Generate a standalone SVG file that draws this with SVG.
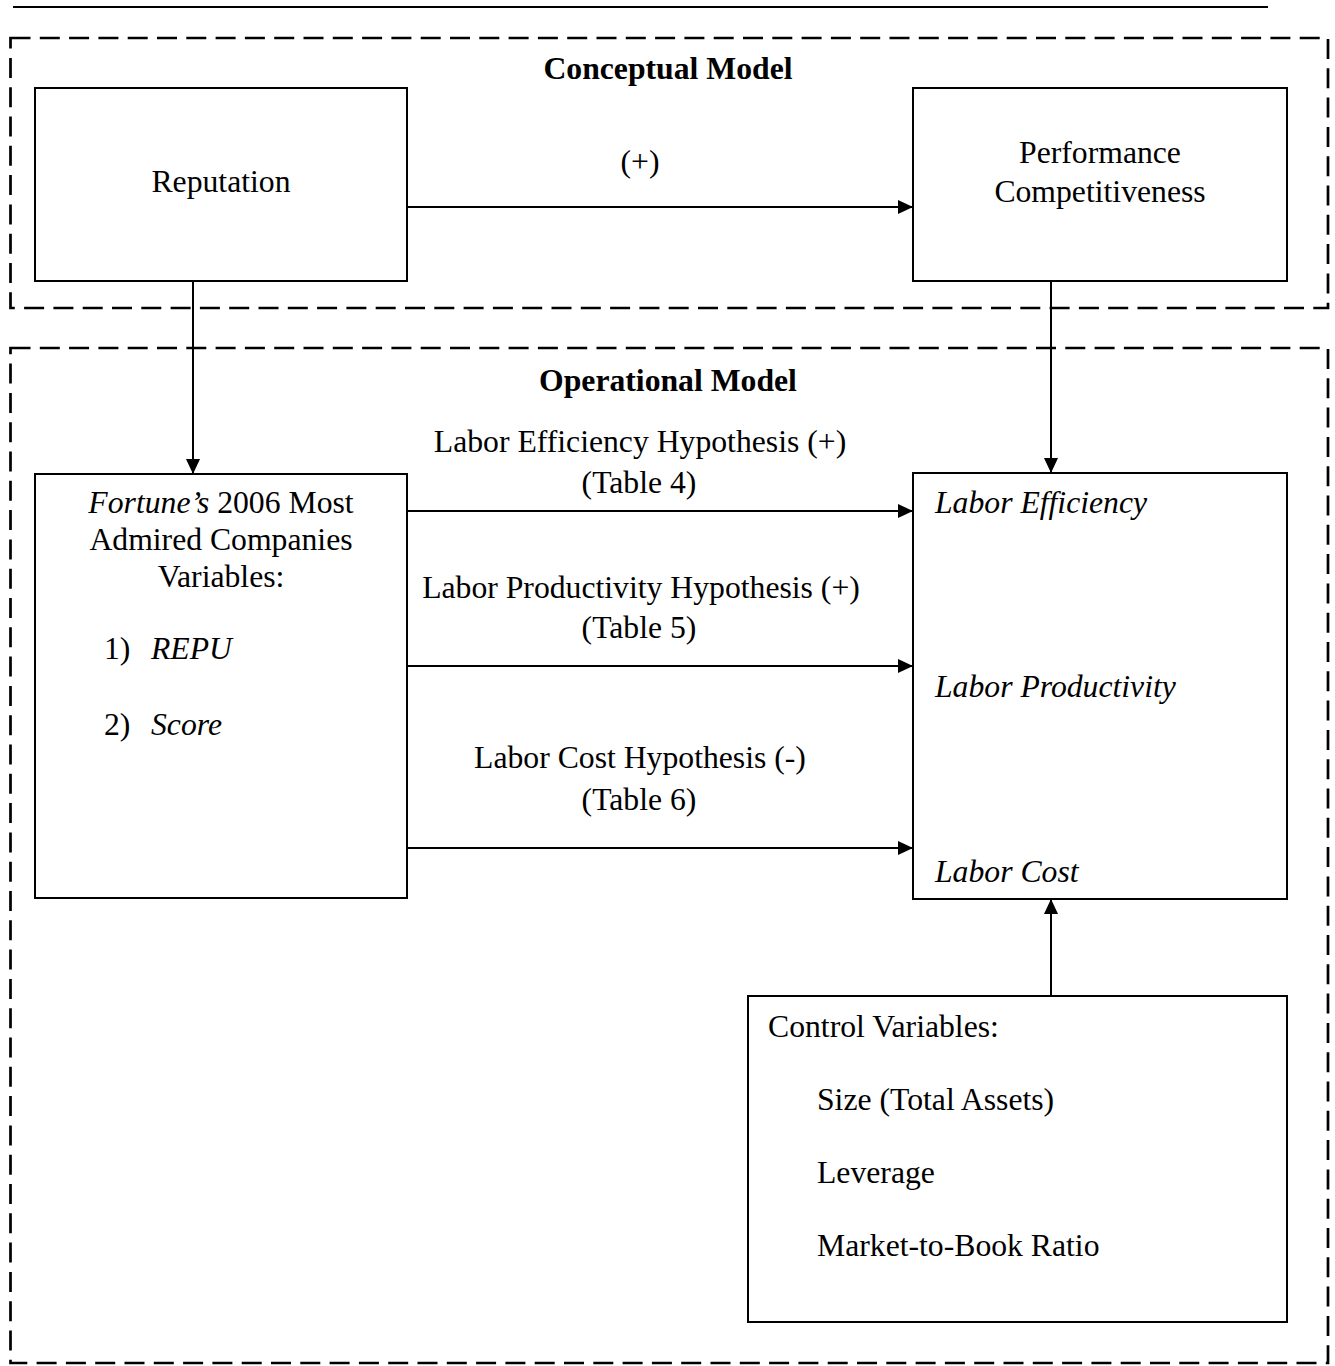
<svg xmlns="http://www.w3.org/2000/svg" width="1335" height="1366" viewBox="0 0 1335 1366">
  <style>
    text { font-family: "Liberation Serif", "Times New Roman", serif; font-size: 31.7px; fill: #000; }
    .b { font-weight: bold; }
    .i { font-style: italic; }
    .c { text-anchor: middle; }
    .box { fill: #fff; stroke: #000; stroke-width: 2; }
    .dash { fill: none; stroke: #000; stroke-width: 2.7; stroke-dasharray: 20 9.3; }
    .conn { stroke: #000; stroke-width: 2; fill: none; marker-end: url(#arr); }
  </style>
  <defs>
    <marker id="arr" markerUnits="userSpaceOnUse" markerWidth="16" markerHeight="14" refX="15" refY="7" orient="auto">
      <path d="M0,0 L15,7 L0,14 z" fill="#000"/>
    </marker>
  </defs>
  <rect width="1335" height="1366" fill="#fff"/>
  <line x1="13" y1="7" x2="1268" y2="7" stroke="#000" stroke-width="2.2"/>

  <g id="conceptual-frame">
    <rect class="dash" x="10.5" y="38" width="1317.5" height="270"/>
    <text class="b c" x="668" y="79">Conceptual Model</text>
  </g>
  <g id="operational-frame">
    <rect class="dash" x="10.5" y="348" width="1317.5" height="1015"/>
    <text class="b c" x="668" y="391">Operational Model</text>
  </g>

  <g id="reputation">
    <rect class="box" x="35" y="88" width="372" height="193"/>
    <text class="c" x="221" y="192">Reputation</text>
  </g>
  <g id="performance">
    <rect class="box" x="913" y="88" width="374" height="193"/>
    <text class="c" x="1100" y="163">Performance</text>
    <text class="c" x="1100" y="202">Competitiveness</text>
  </g>
  <g id="fortune">
    <rect class="box" x="35" y="474" width="372" height="424"/>
    <text class="c" x="221" y="513"><tspan class="i">Fortune’s</tspan> 2006 Most</text>
    <text class="c" x="221" y="550">Admired Companies</text>
    <text class="c" x="221" y="587">Variables:</text>
    <text x="104" y="659">1)</text>
    <text class="i" x="151" y="659">REPU</text>
    <text x="104" y="735">2)</text>
    <text class="i" x="151" y="735">Score</text>
  </g>
  <g id="labor">
    <rect class="box" x="913" y="473" width="374" height="426"/>
    <text class="i" x="935" y="513">Labor Efficiency</text>
    <text class="i" x="935" y="697">Labor Productivity</text>
    <text class="i" x="935" y="882">Labor Cost</text>
  </g>
  <g id="control">
    <rect class="box" x="748" y="996" width="539" height="326"/>
    <text x="768" y="1037">Control Variables:</text>
    <text x="817" y="1110">Size (Total Assets)</text>
    <text x="817" y="1183">Leverage</text>
    <text x="817" y="1256">Market-to-Book Ratio</text>
  </g>

  <g id="connectors">
    <line class="conn" x1="407" y1="207" x2="913" y2="207"/>
    <line class="conn" x1="193" y1="281" x2="193" y2="474"/>
    <line class="conn" x1="1051" y1="281" x2="1051" y2="473"/>
    <line class="conn" x1="407" y1="511" x2="913" y2="511"/>
    <line class="conn" x1="407" y1="666" x2="913" y2="666"/>
    <line class="conn" x1="407" y1="848" x2="913" y2="848"/>
    <line class="conn" x1="1051" y1="996" x2="1051" y2="899"/>
  </g>
  <g id="connector-labels">
    <text class="c" x="640" y="172">(+)</text>
    <text class="c" x="640" y="452">Labor Efficiency Hypothesis (+)</text>
    <text class="c" x="639" y="493">(Table 4)</text>
    <text class="c" x="641" y="598">Labor Productivity Hypothesis (+)</text>
    <text class="c" x="639" y="638">(Table 5)</text>
    <text class="c" x="640" y="768">Labor Cost Hypothesis (-)</text>
    <text class="c" x="639" y="810">(Table 6)</text>
  </g>
</svg>
